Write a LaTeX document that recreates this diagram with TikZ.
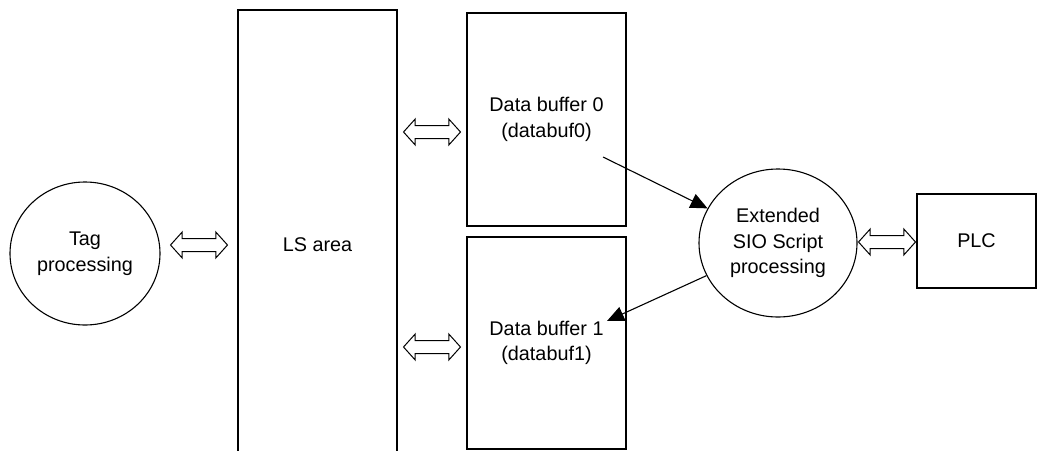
\documentclass[tikz,border=0pt]{standalone}
\usepackage{fontspec}
\setmainfont{Liberation Sans}
\usetikzlibrary{shapes.geometric,shapes.arrows,arrows.meta,calc}
\tikzset{
myproc/.style={
  draw,
  shape=ellipse,
  inner sep=0pt,
  align=center,
  line width=1.1pt
  },
mybuf/.style={
  draw,
  rectangle,
  inner sep=0pt,
  align=center,
  minimum width=159pt,
  line width=1.1pt
  },
mydbl/.style={
  draw,
  shape=double arrow,
  inner xsep=0pt,
  inner ysep=6pt,
  minimum height=57pt,
  double arrow head extend=6.5pt,
  double arrow tip angle=96,
  line width=1pt
  }
}

\begin{document}
\begin{tikzpicture}[x=1pt,y=-1pt,font=\fontsize{19.8}{25.5}\selectfont]

\useasboundingbox (0,0) rectangle (1038,450);

\node[myproc,minimum width=150pt,minimum height=143pt] at (85,253.5) (tag) {Tag\\processing};
\node[mybuf,minimum height=470pt] at (317.5,245) (ls) {LS area};
\node[mybuf,minimum height=213pt] at (546.5,119.5) (buf0) {Data buffer 0\\(databuf0)};
\node[mybuf,minimum height=212pt] at (546.5,343) (buf1) {Data buffer 1\\(databuf1)};
\node[myproc,minimum width=158pt,minimum height=148pt] at (778,243) (sio) {Extended\\SIO Script\\processing};
\node[mybuf,minimum width=119pt,minimum height=94pt] at (976.5,241) (plc) {PLC};

\coordinate (b0tail) at (603,157);
\coordinate (b1tip) at (607,321);

% exchange arrows
\path (tag.east |- 0,245) -- node[mydbl] (a0) {} (ls.west |- 0,245);
\path (ls.east |- 0,132) -- node[mydbl] (a1) {} (buf0.west |- 0,132);
\path (ls.east |- 0,347) -- node[mydbl] (a2) {} (buf1.west |- 0,347);
\path (sio.east |- 0,242) -- node[mydbl] (a3) {} (plc.west |- 0,242);

\begin{scope}[line width=1.1pt,-{Triangle[length=17pt,width=15pt]}]
\draw (b0tail) -- (sio);
\draw (sio) -- (b1tip);
\end{scope}

\end{tikzpicture}
\end{document}
